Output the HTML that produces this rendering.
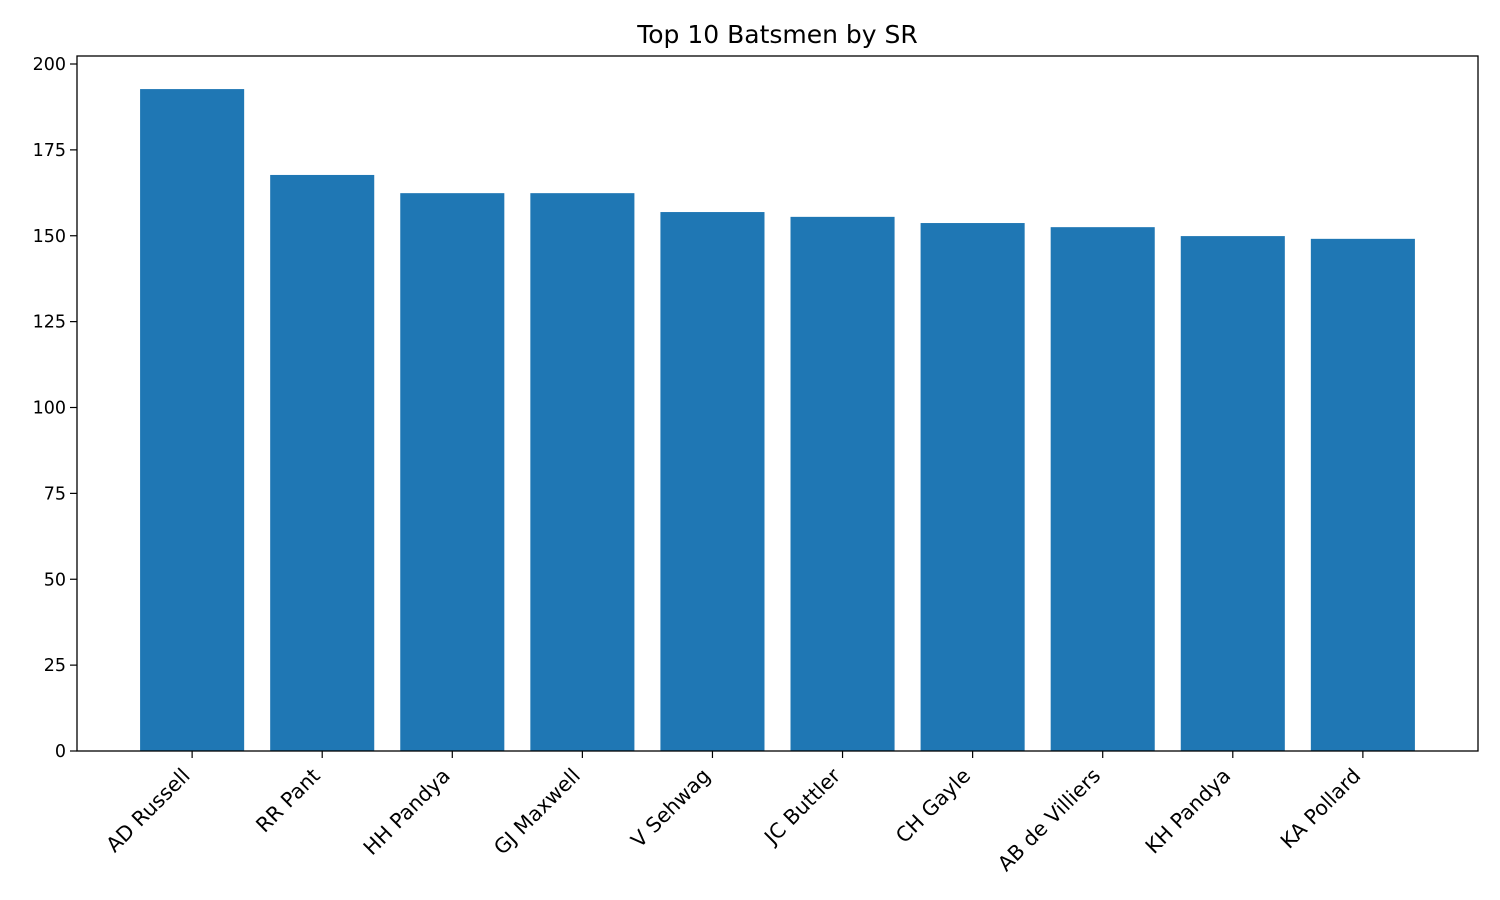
<!DOCTYPE html>
<html><head><meta charset="utf-8"><style>
body{margin:0;background:#fff;}
svg{display:block;font-family:"DejaVu Sans","Liberation Sans",sans-serif;}
</style></head><body>
<svg id="chart" width="1500" height="900" xmlns="http://www.w3.org/2000/svg">
<rect width="1500" height="900" fill="#fff"/>
<text x="777.5" y="43" font-size="25" text-anchor="middle" fill="#000">Top 10 Batsmen by SR</text>
<g id="bars"></g><g id="yaxis"></g><g id="xaxis"></g>
<rect x="77" y="56" width="1401" height="695" fill="none" stroke="#000" stroke-width="1.3"/>
</svg>
<script>
const categories=["AD Russell","RR Pant","HH Pandya","GJ Maxwell","V Sehwag","JC Buttler","CH Gayle","AB de Villiers","KH Pandya","KA Pollard"];
const values=[192.7,167.7,162.4,162.4,156.9,155.5,153.7,152.5,149.9,149.1];
const yTicks=[0,25,50,75,100,125,150,175,200];
const L=77,R=1478,T=56,B=751;
const ys=v=>B-(v/200)*(B-64);
const xs=i=>L+(i+0.885)/10.77*(R-L);
const bw=0.8/10.77*(R-L);
const NS="http://www.w3.org/2000/svg";
function mk(t,a,p){const e=document.createElementNS(NS,t);for(const k in a)e.setAttribute(k,a[k]);p.appendChild(e);return e;}
const gb=document.getElementById('bars'),gy=document.getElementById('yaxis'),gx=document.getElementById('xaxis');
values.forEach((v,i)=>{
 const r=mk('rect',{x:xs(i)-bw/2,y:ys(v),width:bw,height:B-ys(v),fill:'#1f77b4'},gb);
 
 
 const tk=mk('line',{x1:xs(i),x2:xs(i),y1:B,y2:B+7,stroke:'#000','stroke-width':1.2},gx);
 
 
 const x=xs(i)-1,y=B+26;
 const t=mk('text',{x:x,y:y,'font-size':20.5,'text-anchor':'end',fill:'#000',transform:`rotate(-45 ${x} ${y})`},gx);
 t.textContent=categories[i];
 
 
});
yTicks.forEach(v=>{
 const tk=mk('line',{x1:L-7,x2:L,y1:ys(v),y2:ys(v),stroke:'#000','stroke-width':1.2},gy);
 
 
 const t=mk('text',{x:L-11,y:ys(v)+6,'font-size':17.5,'text-anchor':'end',fill:'#000'},gy);
 t.textContent=v;
 
 
});
</script>
</body></html>
